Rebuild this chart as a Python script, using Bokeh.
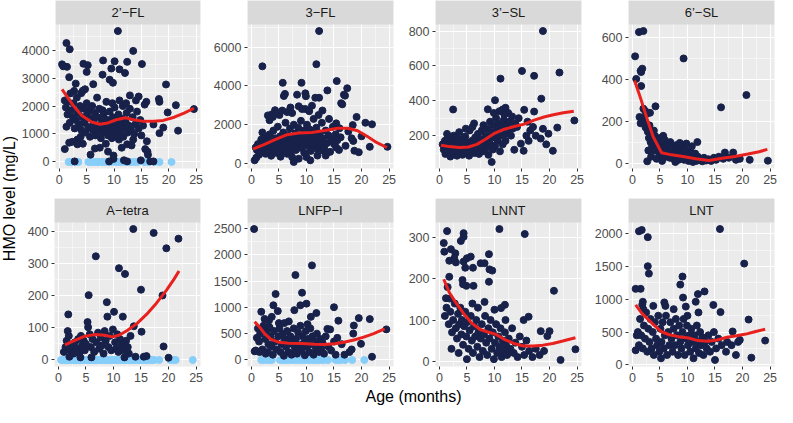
from math import pi
from bokeh.plotting import figure
from bokeh.layouts import row, column
from bokeh.models import Range1d, FixedTicker
from bokeh.core.properties import value
from bokeh.embed import file_html
from bokeh.resources import INLINE

# ---------------- data ----------------
panel_names = ["2’−FL", "3−FL", "3’−SL", "6’−SL", "A−tetra", "LNFP−I", "LNNT", "LNT"]
x_ticks = [0, 5, 10, 15, 20, 25]

# 2'-FL
fl2_pts = [(10.7,4680),(1.3,4250),(1.9,4030),(13.5,3970),(0.5,3490),(1.4,3400),(0.7,3420),(4.4,3510),(5.2,3460),(5.0,3220),
 (8.0,3630),(10.1,3600),(11.0,3310),(12.0,3180),(12.4,3580),(15.1,3500),(1.8,3030),(7.9,3120),(9.5,3340),(9.2,2940),
 (9.8,2830),(6.2,2780),(19.5,2770),(3.0,2800),(2.7,2540),(4.0,2460),(4.7,2600),(18.2,2250),(18.3,2150),(21.3,2030),
 (19.8,1770),(24.6,1890),(14.5,2340),(15.9,2150),(12.9,2380),(17.2,1340),(19.0,1230),(18.3,1030),(21.7,1120),(16.0,740),
 (15.7,460),(16.1,370),(16.2,260),(14.9,57),(16.6,20),(17.2,20),(1.0,460),(1.8,690),(1.3,1260),(2.8,20),(2.4,720),
 (3.3,800),(3.3,630),(4.3,650),(5.7,260),(6.5,480),(7.4,510),(8.9,370),(9.9,230),(11.4,510),(12.4,630),(13.2,590),
 (9.9,110),(11.8,60),(9.1,20),(12.4,20),
 (1.0,2200),(1.2,1950),(1.5,1700),(1.6,2150),(2.0,2450),(2.2,1850),(2.5,1600),(2.6,2100),(3.0,1500),(3.2,2300),
 (3.4,1750),(3.6,1350),(3.8,2000),(4.0,1150),(4.2,1600),(4.5,1900),(4.6,1400),(4.8,1050),(5.0,2100),(5.1,1700),
 (5.3,1250),(5.5,1850),(5.6,900),(5.8,1550),(6.0,2000),(6.1,1150),(6.3,1400),(6.5,1750),(6.6,950),(6.8,1300),
 (7.0,1600),(7.1,1100),(7.3,1900),(7.5,1250),(7.6,850),(7.8,1450),(8.0,1050),(8.1,1700),(8.3,1300),(8.4,1150),
 (8.6,2150),(8.8,1500),(8.9,950),(9.0,1250),(9.2,1800),(9.3,1100),(9.5,1400),(9.6,850),(9.8,1600),(10.0,1200),
 (10.1,1950),(10.3,1000),(10.4,1450),(10.6,1250),(10.8,1700),(10.9,800),(11.1,1350),(11.2,1100),(11.4,1550),(11.6,2000),
 (11.7,900),(11.9,1250),(12.1,1450),(12.3,1750),(12.5,1050),(12.7,1300),(12.9,1900),(13.1,1150),(13.4,1600),(13.7,1000),
 (13.9,1350),(14.2,1800),(14.5,1200),(14.8,1500),(15.0,950),(15.3,1300),(15.6,2050),(3.9,900),(2.8,1200),(7.9,1850),
 (9.7,2100),(11.0,2200),(6.9,2300),(4.3,2550),(1.9,1400),(10.5,900),(12.2,2100),(8.5,650),(13.5,800),(14.0,2200)]
fl2_nd_x = [1.7,2.3,3.0,3.5,5.3,5.8,6.3,6.8,7.2,7.8,8.3,8.9,9.4,10.2,10.8,11.3,12.0,12.6,13.1,13.7,14.3,15.5,16.2,17.4,18.3,20.5]
fl2_fit_x = [0.5,2.4,4.1,5.9,7.4,8.9,10.4,12.1,13.6,15.4,17.2,19.0,21.0,22.8,24.6]
fl2_fit_y = [2594,2057,1657,1430,1350,1394,1509,1577,1509,1451,1451,1486,1600,1749,1920]

# 3-FL
fl3_pts = [(12.3,6830),(11.8,5120),(2.0,5010),(5.7,4160),(9.1,4160),(15.5,4250),(17.4,3880),(16.8,3550),(13.8,3770),(6.1,3590),
 (5.9,3480),(8.3,3550),(9.8,3620),(9.9,3470),(11.6,3390),(12.3,3390),(16.3,3110),(5.6,2730),(6.5,2650),(7.1,2890),
 (9.8,2810),(9.2,2810),(11.0,2980),(12.9,2730),(3.7,2530),(3.0,2480),(3.3,2230),(19.1,2400),(20.7,2100),(21.9,2020),
 (18.4,1980),(15.4,2070),(16.0,1820),(20.0,1400),(18.5,1160),(18.7,660),(19.5,580),(21.5,860),(24.7,860),(17.1,910),
 (15.4,830),(13.5,410),(0.6,165),(0.8,830),(1.5,580),(1.8,1240),(7.4,330),(7.7,80),(8.6,250),(10.0,330),(10.7,165),
 (12.0,410),(13.0,660),(17.0,3500),(16.5,3050),(4.3,2750),(8.6,2950),(10.5,2700),
 (1.0,700),(1.2,1000),(1.4,450),(1.6,850),(1.9,600),(2.1,1100),(2.3,750),(2.5,1350),(2.6,500),(2.8,950),
 (3.0,1200),(3.1,650),(3.3,1500),(3.5,850),(3.6,400),(3.8,1100),(4.0,1700),(4.1,750),(4.3,1300),(4.5,550),
 (4.7,1000),(4.8,1900),(5.0,800),(5.2,1400),(5.3,350),(5.5,1150),(5.7,650),(5.8,1600),(6.0,950),(6.2,2100),
 (6.3,1250),(6.5,500),(6.7,1450),(6.8,850),(7.0,1800),(7.2,1100),(7.3,650),(7.5,1350),(7.7,2000),(7.8,950),
 (8.0,1550),(8.1,700),(8.3,1200),(8.5,1850),(8.7,1000),(8.8,1450),(9.0,2200),(9.1,800),(9.3,1300),(9.5,1700),
 (9.6,550),(9.8,1100),(10.0,1500),(10.1,2000),(10.3,900),(10.5,1300),(10.6,1750),(10.8,650),(11.0,1150),(11.1,1600),
 (11.3,2300),(11.4,950),(11.6,1400),(11.8,1850),(12.0,750),(12.1,1200),(12.4,1550),(12.6,1000),(12.8,2100),(13.0,1300),
 (13.2,800),(13.5,1700),(13.7,1050),(14.0,1450),(14.3,600),(14.5,1250),(14.8,1900),(15.0,1000),(15.3,1500),(15.6,1200),
 (15.9,700),(16.2,1350),(3.9,2400),(5.1,2500),(7.4,2600),(12.2,2500),(14.1,2300),(2.0,1600),(0.9,300),(17.6,1650),(18.2,1300)]
fl3_nd_x = []
fl3_fit_x = [0.3,2.4,4.4,6.5,8.6,11.0,13.3,15.7,17.5,19.3,21.0,22.8,24.6]
fl3_fit_y = [744,992,1240,1488,1570,1603,1702,1818,1818,1686,1405,1074,826]

# 3'-SL
sl3_pts = [(18.8,800),(15.0,571),(11.1,527),(17.2,543),(21.8,562),(18.5,412),(10.1,403),(17.2,338),(15.4,348),(2.5,350),
 (8.8,351),(24.5,287),(21.4,246),(19.8,211),(19.4,150),(20.6,113),(18.4,183),(18.8,239),(13.6,119),(14.8,154),
 (15.3,113),(9.5,49),(11.5,350),(12.0,360),(12.5,330),(13.2,310),(14.4,300),(16.0,280),(16.5,230),(17.0,250),
 (17.5,200),(16.2,170),(15.8,200),(14.1,250),(11.8,320),
 (0.6,150),(0.8,120),(1.0,170),(1.1,95),(1.3,140),(1.5,185),(1.6,110),(1.8,155),(2.0,80),(2.1,130),
 (2.3,175),(2.5,100),(2.7,150),(2.9,120),(3.0,190),(3.2,85),(3.4,140),(3.5,165),(3.7,105),(3.9,130),
 (4.0,180),(4.2,90),(4.4,150),(4.5,120),(4.7,195),(4.9,100),(5.0,160),(5.2,135),(5.4,85),(5.5,230),
 (5.7,115),(5.9,170),(6.0,250),(6.2,140),(6.4,100),(6.5,190),(6.7,125),(6.9,160),(7.0,210),(7.2,95),
 (7.4,180),(7.5,140),(7.7,230),(7.9,110),(8.0,260),(8.2,160),(8.4,200),(8.5,130),(8.7,240),(8.9,90),
 (9.0,180),(9.2,280),(9.3,150),(9.5,220),(9.7,120),(9.8,260),(10.0,190),(10.1,140),(10.3,300),(10.5,230),
 (10.6,170),(10.8,270),(11.0,110),(11.1,200),(11.3,250),(11.5,150),(11.7,290),(11.9,210),(12.0,170),(12.2,260),
 (12.4,230),(12.7,280),(13.0,200),(13.3,240),(13.8,270),(1.4,210),(2.6,200),(3.6,220),(4.8,240),(6.3,270),
 (9.9,330),(10.9,340)]
sl3_nd_x = []
sl3_fit_x = [0.3,1.8,3.6,5.3,6.8,8.3,10.1,11.8,13.6,15.4,17.2,19.0,20.7,22.5,24.4]
sl3_fit_y = [145,137,132,135,150,178,215,237,252,266,289,307,320,331,340]

# 6'-SL
sl6_pts = [(1.2,626),(2.0,631),(0.5,510),(0.7,402),(1.5,441),(1.8,451),(1.6,435),(9.3,500),(20.7,325),(16.1,266),
 (4.2,271),(1.6,368),(11.8,100),(2.7,8),(24.6,11),(21.3,15),(16.8,50),(18.3,50),(9.8,93),(8.6,96),
 (2.3,250),(2.6,235),(2.0,260),(3.2,240),(1.9,215),(1.3,220),(2.5,180),(1.5,190),
 (2.2,200),(2.4,170),(2.8,150),(3.0,120),(3.1,180),(3.3,100),(3.5,140),(3.6,80),(3.8,110),(4.0,60),
 (4.1,130),(4.3,90),(4.5,70),(4.6,110),(4.8,50),(5.0,85),(5.1,120),(5.3,40),(5.5,70),(5.6,130),
 (5.8,55),(6.0,90),(6.1,30),(6.3,65),(6.5,45),(6.7,80),(6.8,25),(7.0,55),(7.2,35),(7.4,70),
 (7.5,20),(7.7,45),(7.9,85),(8.0,30),(8.2,55),(8.4,15),(8.5,40),(8.7,65),(8.9,25),(9.0,80),
 (9.2,45),(9.4,15),(9.5,35),(9.7,60),(9.9,20),(10.0,40),(10.2,10),(10.4,30),(10.5,55),(10.7,15),
 (10.9,35),(11.0,5),(11.2,25),(11.4,45),(11.6,10),(11.9,30),(12.1,15),(12.4,20),(12.7,8),(13.0,25),
 (13.4,12),(13.8,18),(14.3,10),(14.8,25),(15.2,15),(15.7,30),(16.5,20),(17.5,25),(18.8,15),(19.5,20),
 (2.9,60),(3.4,30),(4.4,20),(5.4,10),(7.8,5),(3.9,155),(5.9,110),(6.9,100),(8.8,90),(10.8,80)]
sl6_nd_x = []
sl6_fit_x = [0.4,1.5,2.7,3.8,5.3,7.1,9.2,11.5,13.9,16.3,18.6,21.0,23.0,24.5]
sl6_fit_y = [394,309,209,124,49,39,31,20,12,23,31,43,54,65]

# A-tetra
at_pts = [(13.6,408),(17.3,396),(21.8,378),(19.6,348),(6.8,323),(11.0,286),(12.1,268),(5.5,202),(15.0,219),(18.9,201),
 (8.8,180),(10.1,150),(1.8,142),(8.9,135),(11.7,135),(5.3,118),(5.4,102),(1.7,90),(15.1,88),(13.7,105),
 (19.1,42),(20.0,7),
 (1.0,25),(1.3,40),(1.5,60),(1.9,75),(2.2,30),(2.5,45),(2.8,20),(3.0,55),(3.3,35),(3.6,65),
 (3.9,25),(4.1,75),(4.3,45),(4.6,60),(4.8,30),(5.0,50),(5.7,80),(5.9,40),(6.2,65),(6.5,25),
 (6.9,55),(7.2,85),(7.4,35),(7.7,70),(7.9,45),(8.2,20),(8.4,90),(8.6,60),(9.1,40),(9.3,75),
 (9.6,30),(9.9,95),(10.3,55),(10.5,35),(10.7,80),(10.9,25),(11.2,65),(11.5,45),(11.9,30),(12.3,60),
 (12.6,40),(12.8,20),(13.1,75),(14.0,10),(15.5,10),(16.0,12),(2.0,10),(4.0,8),(6.0,8),(12.0,8)]
at_nd_x = [0.5,0.8,1.2,1.4,1.7,2.1,2.3,2.6,3.0,3.2,3.5,3.9,4.1,4.4,4.8,5.0,5.3,5.7,5.9,6.2,6.6,6.8,7.1,7.5,
 7.7,8.0,8.4,8.6,8.9,9.3,9.5,9.8,10.2,10.4,10.7,11.1,11.3,11.6,12.0,12.2,12.5,12.9,13.1,13.4,13.8,14.0,
 14.3,14.7,14.9,15.2,15.6,15.8,16.1,16.6,17.0,17.4,18.3,20.3,20.8,21.3,24.4]
at_fit_x = [1.2,3.1,4.8,6.6,8.4,9.8,11.0,12.5,14.3,16.0,17.8,19.6,21.0,21.9]
at_fit_y = [47,62,74,79,77,72,77,92,114,142,177,217,252,277]

# LNFP-I
lnfp_pts = [(0.5,2488),(11.0,1797),(8.0,1614),(9.2,1278),(4.4,1253),(4.0,1039),(10.0,1070),(8.9,1039),(15.0,1002),(4.8,929),
 (1.8,917),(11.8,892),(7.8,947),(3.7,819),(10.8,819),(18.6,654),(21.5,776),(19.5,795),(15.8,746),(6.8,733),
 (24.5,581),(18.5,501),(19.9,306),(21.9,61),(0.6,165),(1.0,420),(0.8,180),(13.8,590),(14.3,580),(2.4,780),
 (3.2,750),(17.8,150),(18.2,200),(16.9,100),(16.4,300),(15.6,420),
 (1.2,600),(1.4,350),(1.6,500),(2.0,200),(2.2,650),(2.5,400),(2.7,550),(2.9,150),(3.1,300),(3.3,620),
 (3.5,450),(3.7,250),(3.9,100),(4.1,550),(4.3,350),(4.6,200),(4.9,450),(5.1,600),(5.3,150),(5.5,300),
 (5.7,500),(5.9,80),(6.1,400),(6.3,250),(6.5,550),(6.7,150),(6.9,350),(7.1,450),(7.3,100),(7.5,300),
 (7.7,600),(7.9,200),(8.1,400),(8.3,120),(8.5,520),(8.7,280),(8.9,650),(9.1,180),(9.3,450),(9.5,320),
 (9.7,90),(9.9,550),(10.1,250),(10.3,400),(10.5,150),(10.7,600),(10.9,300),(11.1,450),(11.3,100),(11.5,350),
 (11.7,200),(11.9,500),(12.1,280),(12.3,150),(12.5,400),(12.7,220),(12.9,330),(13.2,120),(13.5,450),(14.0,250),
 (14.5,180),(15.0,350),(15.3,100),(1.5,150),(2.6,120),(5.0,700),(6.0,700),(10.2,680)]
lnfp_nd_x = [1.8,2.2,2.7,3.3,3.7,5.2,5.7,6.2,6.6,7.2,7.7,8.2,8.6,9.2,9.7,10.2,10.6,11.2,11.7,12.2,12.6,13.2,13.9,
 15.3,15.8,16.3,17.0,18.3,20.5]
lnfp_fit_x = [0.6,1.5,2.4,3.5,5.0,6.8,9.2,11.5,13.3,15.1,16.8,18.6,20.4,22.2,24.2]
lnfp_fit_y = [727,623,501,397,336,318,312,300,293,306,336,379,434,501,593]

# LNNT
lnnt_pts = [(1.4,316),(10.9,321),(15.5,309),(4.4,311),(4.4,302),(3.9,292),(0.8,287),(0.9,266),(2.1,272),(2.9,262),
 (1.8,244),(4.4,242),(5.0,250),(5.7,254),(6.1,227),(7.5,238),(8.2,238),(9.0,260),(9.1,223),(9.6,220),
 (4.7,227),(1.8,205),(4.2,197),(4.3,187),(4.9,183),(9.0,193),(6.2,183),(20.8,171),(1.2,153),(1.9,152),
 (8.2,144),(11.9,137),(11.2,129),(16.2,108),(15.3,100),(18.4,73),(20.0,73),(19.6,61),(22.0,3),(24.7,29),
 (19.0,25),(3.0,240),(2.7,250),(1.5,180),
 (1.0,110),(1.3,130),(1.7,90),(2.0,120),(2.3,70),(2.5,100),(2.8,140),(3.0,80),(3.2,55),(3.4,115),
 (3.6,90),(3.8,130),(4.0,65),(4.1,100),(4.3,40),(4.5,85),(4.7,120),(4.9,60),(5.1,95),(5.3,30),
 (5.5,75),(5.7,110),(5.9,50),(6.1,20),(6.3,85),(6.5,60),(6.7,100),(6.9,35),(7.1,70),(7.3,10),
 (7.5,55),(7.7,90),(7.9,25),(8.1,65),(8.3,110),(8.5,45),(8.7,15),(8.9,80),(9.1,55),(9.3,100),
 (9.5,30),(9.7,70),(9.9,5),(10.1,45),(10.3,90),(10.5,20),(10.7,60),(10.9,35),(11.1,80),(11.3,10),
 (11.5,50),(11.7,25),(11.9,70),(12.1,40),(12.3,15),(12.6,55),(12.9,30),(13.2,80),(13.5,20),(13.8,45),
 (14.2,10),(14.6,60),(15.0,35),(15.4,15),(15.8,50),(16.3,25),(16.9,10),(17.5,30),(18.2,15),(2.2,30),
 (3.5,20),(5.0,5),(6.0,140),(7.0,130),(10.0,125),(12.0,100)]
lnnt_nd_x = []
lnnt_fit_x = [0.8,1.8,2.9,4.4,5.9,7.4,8.8,10.3,11.8,13.5,15.3,17.1,18.8,20.6,22.4,24.7]
lnnt_fit_y = [199,167,144,116,92,77,71,65,53,43,37,37,39,43,49,57]

# LNT
lnt_pts = [(1.2,2040),(1.7,2059),(2.8,1950),(15.9,2074),(2.8,1506),(3.0,1393),(20.3,1546),(9.1,1348),(8.7,1225),(9.2,1027),
 (9.7,889),(11.5,963),(13.1,1121),(11.9,1080),(0.6,1160),(1.5,1160),(1.9,963),(1.8,920),(14.7,914),(16.0,805),
 (21.1,691),(5.8,953),(0.6,222),(5.2,99),(21.6,109),(24.1,370),(15.0,74),(18.2,509),(18.0,300),(19.2,350),
 (19.5,380),(17.0,200),(18.8,150),
 (1.0,500),(1.2,300),(1.4,700),(1.6,450),(1.9,250),(2.1,600),(2.3,400),(2.5,800),(2.7,200),(2.9,550),
 (3.1,350),(3.3,700),(3.5,250),(3.7,500),(3.9,150),(4.1,650),(4.3,400),(4.5,300),(4.7,750),(4.9,200),
 (5.1,550),(5.3,350),(5.5,650),(5.7,250),(5.9,450),(6.1,750),(6.3,150),(6.5,500),(6.7,300),(6.9,650),
 (7.1,400),(7.3,200),(7.5,550),(7.7,300),(7.9,700),(8.1,450),(8.3,150),(8.5,600),(8.7,350),(8.9,250),
 (9.1,500),(9.3,700),(9.5,150),(9.7,400),(9.9,600),(10.1,300),(10.3,450),(10.5,200),(10.7,550),(10.9,350),
 (11.1,100),(11.3,450),(11.5,250),(11.7,600),(11.9,350),(12.1,180),(12.3,500),(12.5,300),(12.7,420),(12.9,150),
 (13.2,350),(13.5,250),(13.8,450),(14.1,200),(14.4,350),(14.8,500),(15.2,250),(15.6,400),(16.2,300),(17.2,350),
 (0.8,450),(2.0,850),(3.8,900),(6.0,900),(7.5,850),(10.0,750),(12.0,800)]
lnt_nd_x = []
lnt_fit_x = [0.6,1.7,2.9,4.1,5.2,6.7,8.4,10.2,11.9,13.7,15.4,17.2,18.9,20.6,22.4,24.1]
lnt_fit_y = [914,790,691,593,509,459,430,410,370,360,380,420,444,469,509,543]

y_tick_sets = [
    ([0, 1000, 2000, 3000, 4000], [500, 1500, 2500, 3500, 4500]),
    ([0, 2000, 4000, 6000], [1000, 3000, 5000, 7000]),
    ([200, 400, 600, 800], [100, 300, 500, 700]),
    ([0, 200, 400, 600], [100, 300, 500]),
    ([0, 100, 200, 300, 400], [50, 150, 250, 350]),
    ([0, 500, 1000, 1500, 2000, 2500], [250, 750, 1250, 1750, 2250]),
    ([0, 100, 200, 300], [50, 150, 250]),
    ([0, 500, 1000, 1500, 2000], [250, 750, 1250, 1750]),
]
panels_pts = [fl2_pts, fl3_pts, sl3_pts, sl6_pts, at_pts, lnfp_pts, lnnt_pts, lnt_pts]
panels_nd = [fl2_nd_x, fl3_nd_x, sl3_nd_x, sl6_nd_x, at_nd_x, lnfp_nd_x, lnnt_nd_x, lnt_nd_x]
panels_fit = [(fl2_fit_x, fl2_fit_y), (fl3_fit_x, fl3_fit_y), (sl3_fit_x, sl3_fit_y), (sl6_fit_x, sl6_fit_y),
              (at_fit_x, at_fit_y), (lnfp_fit_x, lnfp_fit_y), (lnnt_fit_x, lnnt_fit_y), (lnt_fit_x, lnt_fit_y)]

# ---------------- styling / layout ----------------
FONT = "Liberation Sans"
NAVY = "#17214A"
LIGHT = "#87CEFA"
RED = "#E8201E"
PANEL_BG = "#EBEBEB"
STRIP_BG = "#D9D9D9"
STRIP_PX = 24
DATA_PX = 144
col_left = [36, 41, 36, 41]
col_right = [6, 6, 6, 3]
FRAME_W = 146
X0, X1 = -0.7, 25.8


def make_panel(i):
    r, c = divmod(i, 4)
    pts = panels_pts[i]
    xs = [p[0] for p in pts]
    ys = [p[1] for p in pts]
    nd = panels_nd[i]
    all_y = ys + ([0] * len(nd))
    lo, hi = min(all_y), max(all_y)
    span = hi - lo
    y0 = lo - 0.05 * span
    y1 = hi + 0.05 * span
    ytop = y1 + (y1 - y0) * STRIP_PX / DATA_PX
    top_b = 0 if r == 0 else 10
    bot_b = 20
    h = top_b + STRIP_PX + DATA_PX + bot_b
    w = col_left[c] + FRAME_W + col_right[c]
    p = figure(width=w, height=h, x_range=Range1d(X0, X1), y_range=Range1d(y0, ytop),
               output_backend="svg", toolbar_location=None,
               min_border_left=col_left[c], min_border_right=col_right[c],
               min_border_top=top_b, min_border_bottom=bot_b,
               background_fill_color=PANEL_BG, border_fill_color="white",
               outline_line_color=None)
    yt, ym = y_tick_sets[i]
    p.xaxis.ticker = FixedTicker(ticks=x_ticks, minor_ticks=[2.5, 7.5, 12.5, 17.5, 22.5])
    p.yaxis.ticker = FixedTicker(ticks=yt, minor_ticks=ym)
    for ax in (p.xaxis[0], p.yaxis[0]):
        ax.axis_line_color = None
        ax.major_tick_line_color = "#333333"
        ax.major_tick_in = 0
        ax.major_tick_out = 3
        ax.minor_tick_line_color = None
        ax.major_label_text_font = FONT
        ax.major_label_text_font_size = "12.5px"
        ax.major_label_text_color = "#4D4D4D"
        ax.major_label_standoff = 2
    for g in (p.xgrid[0], p.ygrid[0]):
        g.grid_line_color = "white"
        g.grid_line_width = 1.1
        g.minor_grid_line_color = "white"
        g.minor_grid_line_width = 0.5
    if nd:
        p.scatter(nd, [0] * len(nd), size=7, fill_color=LIGHT, line_color=LIGHT)
    p.scatter(xs, ys, size=7, fill_color=NAVY, line_color=NAVY)
    fx, fy = panels_fit[i]
    p.line(fx, fy, line_color=RED, line_width=3)
    # facet strip
    p.quad(left=[X0], right=[X1], bottom=[y1], top=[ytop], fill_color=STRIP_BG, line_color=None)
    p.text(x=[(X0 + X1) / 2], y=[(y1 + ytop) / 2], text=[panel_names[i]], text_align="center",
           text_baseline="middle", text_font=value(FONT), text_font_size="13px", text_color="#1A1A1A")
    return p


figs = [make_panel(i) for i in range(8)]
rows_h = figs[0].height + figs[4].height

yt = figure(width=18, height=rows_h, x_range=Range1d(0, 1), y_range=Range1d(0, rows_h),
            output_backend="svg", toolbar_location=None, min_border=0, outline_line_color=None)
yt.axis.visible = False
yt.grid.visible = False
yt.text(x=[0.5], y=[rows_h - 198], text=["HMO level (mg/L)"], angle=pi / 2, text_align="center",
        text_baseline="middle", text_font=value(FONT), text_font_size="16px", text_color="black")

xt = figure(width=777, height=21, x_range=Range1d(0, 777), y_range=Range1d(0, 21),
            output_backend="svg", toolbar_location=None, min_border=0, outline_line_color=None)
xt.axis.visible = False
xt.grid.visible = False
xt.text(x=[413], y=[11], text=["Age (months)"], text_align="center", text_baseline="middle",
        text_font=value(FONT), text_font_size="16px", text_color="black")

layout = column(row(yt, column(row(*figs[:4]), row(*figs[4:]))), xt)
open("out.html", "w").write(file_html(layout, INLINE))
